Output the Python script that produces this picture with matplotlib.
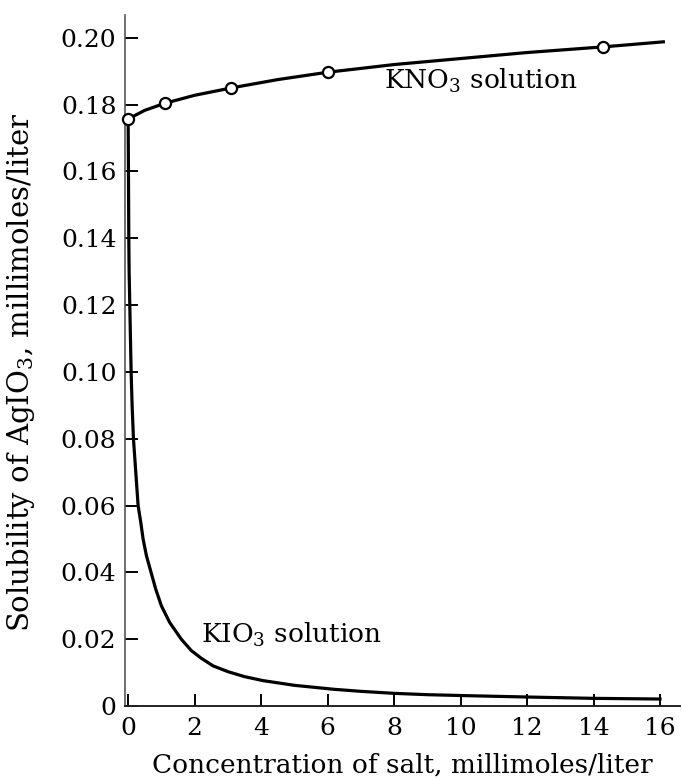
import matplotlib
matplotlib.use("Agg")
import matplotlib.pyplot as plt

# KNO3 measured points (open circles)
kno3_x = [0.0, 1.1, 3.1, 6.0, 14.3]
kno3_y = [0.1757, 0.1804, 0.1850, 0.1897, 0.1973]
# KNO3 smooth curve
kno3_cx = [0.0, 0.5, 1.1, 2.0, 3.1, 4.5, 6.0, 8.0, 10.0, 12.0, 14.3, 16.1]
kno3_cy = [0.1757, 0.1783, 0.1804, 0.1828, 0.1850, 0.1875, 0.1897, 0.1920, 0.1938, 0.1956, 0.1973, 0.1988]
# KIO3 curve
kio3_x = [0.0, 0.005, 0.01, 0.02, 0.03, 0.05, 0.07, 0.09, 0.12, 0.16, 0.23, 0.30, 0.38, 0.45, 0.55, 0.69,
          0.83, 1.0, 1.25, 1.6, 1.9, 2.2, 2.56, 3.0, 3.5, 4.06, 5.0, 6.2, 7.0, 8.0, 9.0, 10.2, 12.0, 14.0, 16.0]
kio3_y = [0.1757, 0.168, 0.16, 0.14, 0.13, 0.12, 0.11, 0.10, 0.09, 0.08, 0.07, 0.06, 0.055, 0.05, 0.045, 0.04,
          0.035, 0.03, 0.025, 0.02, 0.0166, 0.0143, 0.0120, 0.0103, 0.0088, 0.0076, 0.0062, 0.0050, 0.0044, 0.0038,
          0.0034, 0.0031, 0.0027, 0.0023, 0.0021]

x_ticks = [0, 2, 4, 6, 8, 10, 12, 14, 16]
y_ticks = [0, 0.02, 0.04, 0.06, 0.08, 0.10, 0.12, 0.14, 0.16, 0.18, 0.20]
y_labels = ["0", "0.02", "0.04", "0.06", "0.08", "0.10", "0.12", "0.14", "0.16", "0.18", "0.20"]

plt.rcParams['font.family'] = ['DejaVu Serif']
plt.rcParams['mathtext.fontset'] = 'dejavuserif'

fig = plt.figure(figsize=(6.82, 7.78), dpi=100)
ax = fig.add_axes([0.183, 0.0925, 0.814, 0.8885])

ax.plot(kio3_x, kio3_y, color='black', lw=2.3, clip_on=False, solid_joinstyle='round')
ax.plot(kno3_cx, kno3_cy, color='black', lw=2.3, clip_on=False, solid_joinstyle='round')
ax.plot(kno3_x, kno3_y, linestyle='none', marker='o', ms=8, mfc='white', mec='black', mew=1.6,
        clip_on=False, zorder=5)

ax.set_xlim(-0.1, 16.6)
ax.set_ylim(0, 0.2069)
for s in ['top', 'right']:
    ax.spines[s].set_visible(False)
ax.spines['left'].set_color('#555555')
ax.spines['left'].set_linewidth(1.2)
ax.spines['bottom'].set_color('#222222')
ax.spines['bottom'].set_linewidth(1.4)

ax.set_xticks(x_ticks)
ax.set_xticklabels([str(t) for t in x_ticks])
ax.set_yticks(y_ticks)
ax.set_yticklabels(y_labels)
ax.tick_params(direction='in', length=9, width=1.4, labelsize=18, colors='black', pad=6)
ax.tick_params(axis='x', pad=8)

ax.set_xlabel("Concentration of salt, millimoles/liter", fontsize=19, labelpad=9)
ax.set_ylabel(r"Solubility of AgIO$_3$, millimoles/liter", fontsize=21)
ax.yaxis.set_label_coords(-0.158, 0.483)

ax.text(7.7, 0.1870, r"KNO$_3$ solution", fontsize=19, ha='left', va='center')
ax.text(2.2, 0.0212, r"KIO$_3$ solution", fontsize=19, ha='left', va='center')

fig.savefig("out.png", dpi=100)
